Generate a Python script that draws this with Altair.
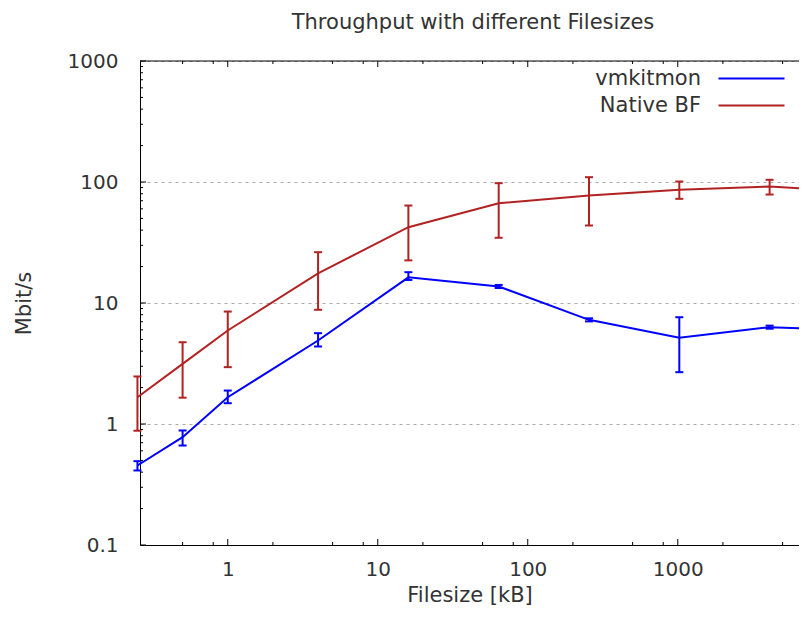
import altair as alt
import pandas as pd

# ---------------- data ----------------
file_sizes = [0.25, 0.5, 1, 4, 16, 64, 256, 1024, 4096, 16384]
series_names = ["vmkitmon", "Native BF"]
series_colors = ["#0000ff", "#b22222"]

vm_mean = [0.454, 0.778, 1.665, 4.90, 16.3, 13.7, 7.26, 5.16, 6.31, 5.9]
vm_low = [0.413, 0.664, 1.486, 4.37, 15.5, 13.3, 7.05, 2.68, 6.13, 5.7]
vm_high = [0.493, 0.884, 1.890, 5.63, 17.97, 14.1, 7.47, 7.63, 6.50, 6.1]

nb_mean = [1.665, 3.14, 5.93, 17.6, 42.3, 66.8, 77.3, 86.2, 91.8, 83.0]
nb_low = [0.88, 1.65, 2.95, 8.79, 22.5, 34.6, 43.7, 72.6, 78.8, 72.0]
nb_high = [2.47, 4.74, 8.50, 26.3, 63.9, 97.8, 109.6, 100.9, 104.3, 95.0]

x_major = [1, 10, 100, 1000]
x_minor = [0.5, 0.8, 2, 5, 8, 20, 50, 80, 200, 500, 800, 2000, 5000]
y_major = [0.1, 1, 10, 100, 1000]
y_minor = [0.2, 0.3, 0.4, 0.5, 0.6, 0.7, 0.8, 0.9,
           2, 3, 4, 5, 6, 7, 8, 9,
           20, 30, 40, 50, 60, 70, 80, 90,
           200, 300, 400, 500, 600, 700, 800, 900]

title_text = "Throughput with different Filesizes"
x_title = "Filesize [kB]"
y_title = "Mbit/s"

# ---------------- tables ----------------
rows = []
for name, m, lo, hi in [("vmkitmon", vm_mean, vm_low, vm_high),
                        ("Native BF", nb_mean, nb_low, nb_high)]:
    for s, a, b, c in zip(file_sizes, m, lo, hi):
        rows.append({"series": name, "size": s, "mean": a, "lo": b, "hi": c})
df = pd.DataFrame(rows)

W, H = 659, 484
FONT = "DejaVu Sans"
TXT = "#333333"

xs = alt.Scale(type="log", domain=[0.26, 6430], nice=False)
ys = alt.Scale(type="log", domain=[0.1, 1000], nice=False)
cs = alt.Scale(domain=series_names, range=series_colors)

base = alt.Chart(df)

lines = base.mark_line(strokeWidth=2).encode(
    x=alt.X("size:Q", scale=xs,
            axis=alt.Axis(values=x_major, format="~g", title=x_title,
                          ticks=False, tickSize=0, labelPadding=14,
                          titlePadding=5, grid=False, labelFlush=False,
                          labelOverlap=False, titleFontSize=21)),
    y=alt.Y("mean:Q", scale=ys,
            axis=alt.Axis(values=y_major, format="~g", title=y_title,
                          ticks=False, tickSize=0, labelPadding=22,
                          titlePadding=33, grid=True, gridDash=[3, 4],
                          gridColor="#aaaaaa", labelFlush=False,
                          labelOverlap=False, titleFontSize=21)),
    color=alt.Color("series:N", scale=cs,
                    legend=alt.Legend(orient="none", legendX=540, legendY=7,
                                      title=None, symbolType="M5.6,0H18.8",
                                      symbolSize=100, symbolStrokeWidth=2,
                                      labelAlign="right", labelOffset=0,
                                      labelFontSize=21, labelFont=FONT,
                                      labelColor=TXT, padding=0,
                                      rowPadding=5, labelLimit=0)),
)

err = base.mark_rule(strokeWidth=2).encode(
    x=alt.X("size:Q", scale=xs),
    y=alt.Y("lo:Q", scale=ys),
    y2="hi:Q",
    color=alt.Color("series:N", scale=cs, legend=None),
)

cap_lo = base.mark_point(shape="stroke", size=64, strokeWidth=2,
                         filled=False, opacity=1).encode(
    x=alt.X("size:Q", scale=xs),
    y=alt.Y("lo:Q", scale=ys),
    color=alt.Color("series:N", scale=cs, legend=None),
)
cap_hi = base.mark_point(shape="stroke", size=64, strokeWidth=2,
                         filled=False, opacity=1).encode(
    x=alt.X("size:Q", scale=xs),
    y=alt.Y("hi:Q", scale=ys),
    color=alt.Color("series:N", scale=cs, legend=None),
)

frame = alt.Chart(pd.DataFrame({"k": [0]}))
top_border = frame.mark_rule(color="#000", strokeWidth=1).encode(
    x=alt.value(0), x2=alt.value(W), y=alt.value(0))


def xticks(values, length, top):
    y0, y1 = (0, length) if top else (H, H - length)
    return alt.Chart(pd.DataFrame({"size": values})).mark_rule(
        color="#000", strokeWidth=1).encode(
        x=alt.X("size:Q", scale=xs),
        y=alt.value(y0), y2=alt.value(y1))


def yticks(values, length):
    return alt.Chart(pd.DataFrame({"mean": values})).mark_rule(
        color="#000", strokeWidth=1).encode(
        y=alt.Y("mean:Q", scale=ys),
        x=alt.value(0), x2=alt.value(length))


chart = alt.layer(
    lines, err, cap_lo, cap_hi, top_border,
    xticks(x_major, 6, False), xticks(x_minor, 3, False),
    xticks(x_major, 6, True), xticks(x_minor, 3, True),
    yticks(y_major, 6), yticks(y_minor, 3),
).properties(
    width=W, height=H,
    title=alt.TitleParams(title_text, font=FONT, fontSize=21,
                          fontWeight="normal", color=TXT, anchor="middle",
                          dx=3.5, offset=18),
    autosize=alt.AutoSizeParams(type="none"),
    padding={"left": 132, "top": 53, "right": 0, "bottom": 64},
).configure_view(stroke=None).configure_axis(
    labelFont=FONT, titleFont=FONT, labelFontSize=20, titleFontSize=21,
    labelColor=TXT, titleColor=TXT, titleFontWeight="normal",
    domainColor="#000000", domainWidth=1,
)

chart.save("out.html", embed_options={"renderer": "svg", "actions": False})
